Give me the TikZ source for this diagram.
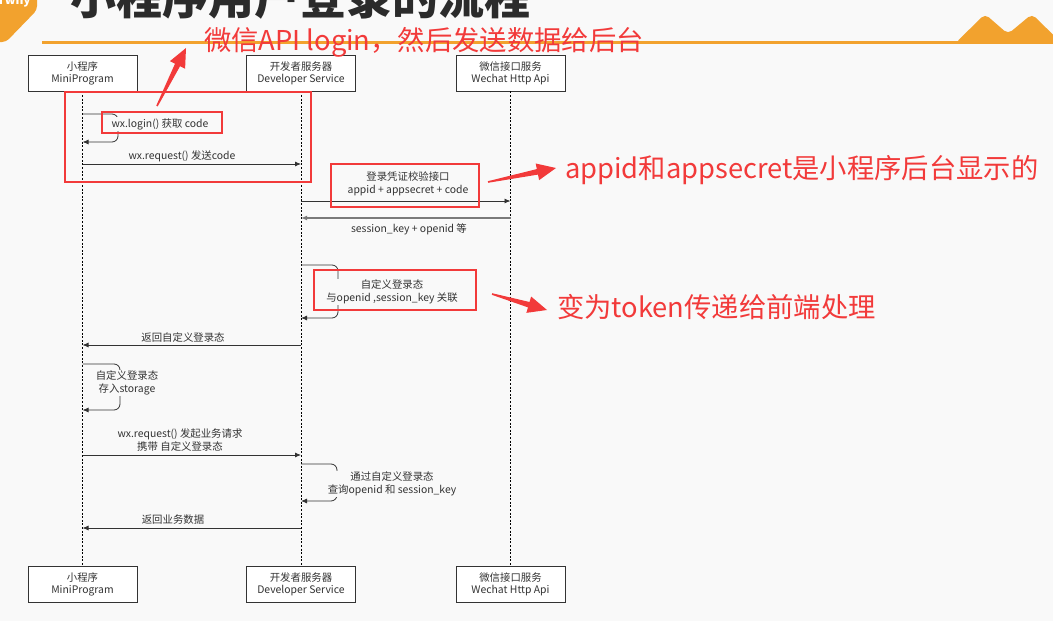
\documentclass[tikz,border=0pt]{standalone}
\usepackage{fontspec}
\setmainfont{Noto Sans CJK SC}
\usetikzlibrary{arrows.meta, calc}
\definecolor{bgpaper}{HTML}{F9F9F9}
\definecolor{annored}{HTML}{F23A3A}
\definecolor{slideorange}{HTML}{F2A22E}
\definecolor{titlegray}{HTML}{2B2B2B}
\definecolor{msggray}{HTML}{333333}
\definecolor{retgray}{HTML}{7A7A7A}
\tikzset{
  >=Latex,
  head/.style={
    draw=msggray, fill=white, line width=0.8pt, align=center, inner sep=1pt,
    minimum width=109pt, minimum height=36pt, font=\fontsize{10.4}{12}\selectfont, text=msggray
  },
  life/.style={draw=black, line width=0.5pt, dash pattern=on 2pt off 1.6pt},
  msg/.style={draw=msggray, line width=0.8pt, -{Latex[length=6pt,width=5pt]}},
  ret/.style={msg, draw=retgray, line width=1.2pt},
  loopmsg/.style={msg, rounded corners=6pt},
  lbl/.style={font=\fontsize{10.4}{12.5}\selectfont, text=msggray, align=center, inner sep=1pt},
  looplbl/.style={lbl, fill=bgpaper},
  redbox/.style={draw=annored, line width=2.6pt},
  note/.style={font=\fontsize{27.3}{29}\selectfont, text=annored, anchor=west, inner sep=0pt}
}
% tapered pointer: #1 tail, #2 tip (named coordinates)
\newcommand{\annoarrow}[2]{%
  \coordinate (#2-b) at ($(#2)!19pt!(#1)$);
  \fill[annored] ($(#1)!0.8pt!90:(#2)$) -- ($(#2-b)!2.8pt!90:(#2)$)
    -- ($(#2-b)!8.5pt!90:(#2)$) -- (#2) -- ($(#2-b)!8.5pt!-90:(#2)$)
    -- ($(#2-b)!2.8pt!-90:(#2)$) -- ($(#1)!0.8pt!-90:(#2)$) -- cycle;}

\begin{document}
\begin{tikzpicture}[x=1pt, y=-1pt]
  \useasboundingbox (0,0) rectangle (1053,621);
  \clip (0,0) rectangle (1053,621);
  \fill[bgpaper] (0,0) rectangle (1053,621);
  % slide header
  \fill[slideorange, rounded corners=4pt] (-10,-10) -- (37,-10) -- (37,10) -- (6,42) -- (-10,42) -- cycle;
  \node[font=\fontsize{12}{12}\selectfont\bfseries, text=white, anchor=base west, inner sep=0pt] (badge) at (-1,5) {rwny};
  \node[font=\fontsize{46}{46}\selectfont\bfseries, text=titlegray, anchor=base west, inner sep=0pt] (title) at (70,15) {小程序用户登录的流程};
  \draw[slideorange, line width=3pt] (42,42) -- (1053,42);
  \fill[slideorange, rounded corners=5pt] (955,43.5) -- (985,14) -- (1008,34) -- (1032,14) -- (1062,43.5) -- cycle;

  % participants and lifelines
  \foreach \id/\x/\cn/\en in {mp/82.5/小程序/MiniProgram, ds/301/开发者服务器/Developer Service, wx/510.5/微信接口服务/Wechat Http Api} {
    \node[head] (\id-top) at (\x,73) {\cn\\\en};
    \node[head] (\id-bot) at (\x,584) {\cn\\\en};
    \draw[life] (\id-top) -- (\id-bot);
  }

  % login
  \draw[loopmsg] (mp-top |- 0,114) -| (118,142) -- (mp-top |- 0,142);
  \node[looplbl] (login) at (160,124) {wx.login() 获取 code};
  \draw[msg] (mp-top |- 0,164) -- (ds-top |- 0,164);
  \node[lbl] (sendcode) at (182,156) {wx.request() 发送code};

  % code2session
  \draw[msg] (ds-top |- 0,201) -- (wx-top |- 0,201);
  \node[lbl] (check) at (408,184) {登录凭证校验接口\\appid + appsecret + code};
  \draw[ret] (wx-top |- 0,218) -- (ds-top |- 0,218);
  \node[lbl] (skey) at (409,229) {session\_key + openid 等};

  % custom session
  \draw[loopmsg] (ds-top |- 0,265) -| (338,318) -- (ds-top |- 0,318);
  \node[looplbl] (bind) at (392,292) {自定义登录态\\与openid ,session\_key 关联};
  \draw[msg] (ds-top |- 0,345) -- (mp-top |- 0,345);
  \node[lbl] (back) at (183,338) {返回自定义登录态};
  \draw[loopmsg] (mp-top |- 0,364) -| (120,410) -- (mp-top |- 0,410);
  \node[looplbl] (store) at (127,383) {自定义登录态\\存入storage};

  % business request
  \draw[msg] (mp-top |- 0,455) -- (ds-top |- 0,455);
  \node[lbl] (biz) at (180,440) {wx.request() 发起业务请求\\携带 自定义登录态};
  \draw[loopmsg] (ds-top |- 0,464) -| (337,501) -- (ds-top |- 0,501);
  \node[looplbl] (query) at (392,484) {通过自定义登录态\\查询openid 和 session\_key};
  \draw[msg] (ds-top |- 0,528) -- (mp-top |- 0,528);
  \node[lbl] (data) at (173,520) {返回业务数据};

  % red annotations
  \draw[redbox] (65,92) rectangle (311,182);
  \draw[redbox] (102,112) rectangle (222,133);
  \draw[redbox] (331,164) rectangle (479,207);
  \draw[redbox] (314,270) rectangle (476,310);
  \coordinate (loginTail) at (157,106);
  \coordinate (loginTip) at (186,48);
  \coordinate (appTail) at (488,182);
  \coordinate (appTip) at (556,168);
  \coordinate (tokTail) at (492,294);
  \coordinate (tokTip) at (547,310);
  \annoarrow{loginTail}{loginTip}
  \annoarrow{appTail}{appTip}
  \annoarrow{tokTail}{tokTip}
  \node[note] (noteLogin) at (204,42) {微信API login，然后发送数据给后台};
  \node[note] (noteApp) at (565,170) {appid和appsecret是小程序后台显示的};
  \node[note] (noteTok) at (557,307) {变为token传递给前端处理};
\end{tikzpicture}
\end{document}
